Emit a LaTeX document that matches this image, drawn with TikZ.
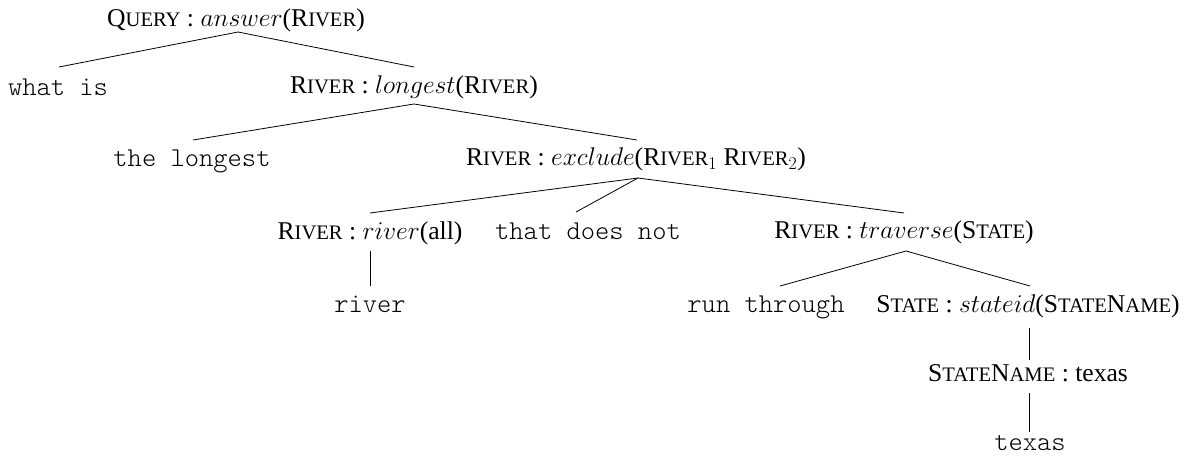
\RequirePackage{fix-cm}
\documentclass[tikz,border=0pt]{standalone}
\usepackage{fontspec}
\setmainfont{Liberation Serif}
\newfontfamily\lightmono{lmmonolt10-regular.otf}
\newcommand{\SC}[2]{#1{\fontsize{20.6}{22}\selectfont #2}}
\begin{document}
\begin{tikzpicture}[x=1pt,y=-1pt,
  lab/.style={anchor=base, inner sep=0pt, font=\fontsize{25.6}{30}\selectfont},
  word/.style={anchor=base, inner sep=0pt, font=\lightmono\fontsize{27.2}{30}\selectfont},
  edge/.style={line width=0.8pt}]
\useasboundingbox (0,0) rectangle (1191,465);
% nodes
\node[lab]  (root) at (236,27)  {\SC{Q}{UERY} : $answer$(\SC{R}{IVER})};
\node[word] (what) at (58,96)   {what is};
\node[lab]  (long) at (414,94)  {\SC{R}{IVER} : $longest$(\SC{R}{IVER})};
\node[word] (thel) at (192,167) {the longest};
\node[lab]  (excl) at (636,166) {\SC{R}{IVER} : $exclude$(\SC{R}{IVER}$_1$ \SC{R}{IVER}$_2$)};
\node[lab]  (rall) at (370,240) {\SC{R}{IVER} : $river$(all)};
\node[word] (tdn)  at (588,240) {that does not};
\node[lab]  (trav) at (904,239) {\SC{R}{IVER} : $traverse$(\SC{S}{TATE})};
\node[word] (riv)  at (370,312) {river};
\node[word] (run)  at (766,312) {run through};
\node[lab]  (sid)  at (1028,312) {\SC{S}{TATE} : $stateid$(\SC{S}{TATE}\SC{N}{AME})};
\node[lab]  (sname) at (1028,381) {\SC{S}{TATE}\SC{N}{AME} : texas};
\node[word] (tex)  at (1030,450) {texas};
% edges
\draw[edge] ([shift={(2,5)}]root.base) -- ([shift={(1,-29)}]what.base);
\draw[edge] ([shift={(2,5)}]root.base) -- ([shift={(0,-27)}]long.base);
\draw[edge] ([shift={(0,10)}]long.base) -- ([shift={(1,-27)}]thel.base);
\draw[edge] ([shift={(0,10)}]long.base) -- ([shift={(1,-26)}]excl.base);
\draw[edge] ([shift={(2,12)}]excl.base) -- ([shift={(0,-27)}]rall.base);
\draw[edge] ([shift={(2,12)}]excl.base) -- ([shift={(-12,-28)}]tdn.base);
\draw[edge] ([shift={(2,12)}]excl.base) -- ([shift={(0,-26)}]trav.base);
\draw[edge] ([shift={(0,11)}]rall.base) -- ([shift={(0,-26)}]riv.base);
\draw[edge] ([shift={(2,12)}]trav.base) -- ([shift={(14,-26)}]run.base);
\draw[edge] ([shift={(2,12)}]trav.base) -- ([shift={(2,-26)}]sid.base);
\draw[edge] ([shift={(1,16)}]sid.base) -- ([shift={(1,-21)}]sname.base);
\draw[edge] ([shift={(1,12)}]sname.base) -- ([shift={(-1,-18)}]tex.base);
\end{tikzpicture}
\end{document}
